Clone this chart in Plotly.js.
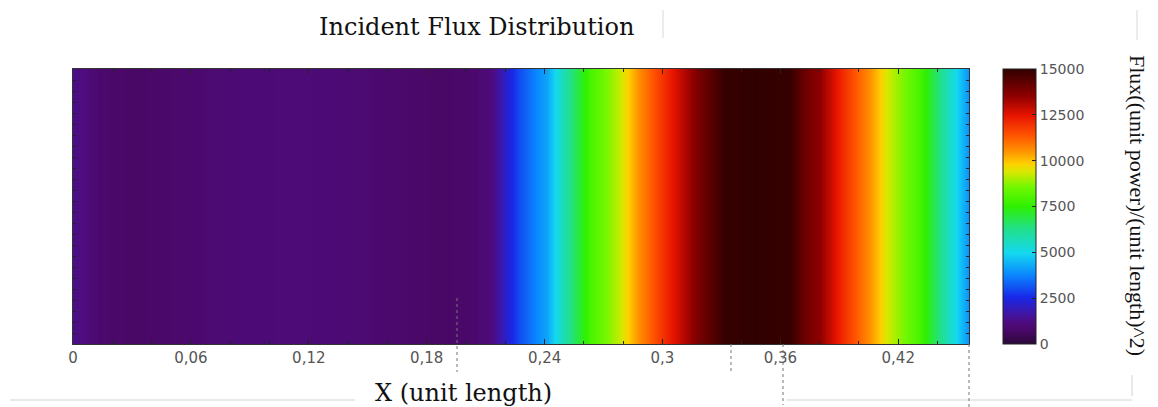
<!DOCTYPE html>
<html>
<head>
<meta charset="utf-8">
<script src="https://cdn.plot.ly/plotly-3.0.1.min.js"></script>
<style>html,body{margin:0;padding:0;background:#fff;}#chart{width:1158px;height:407px;}</style>
</head>
<body>
<div id="chart"></div>
<script>
// Flux profile along X (unit length); field is uniform along the vertical direction
const xPositions = [0.000, 0.006, 0.0137, 0.0305, 0.049, 0.080, 0.115, 0.146, 0.171, 0.188, 0.202, 0.2125, 0.2185, 0.227, 0.236, 0.241, 0.250, 0.263, 0.278, 0.288, 0.301, 0.314, 0.321, 0.3315, 0.347, 0.365, 0.372, 0.380, 0.393, 0.405, 0.415, 0.431, 0.441, 0.456];
const fluxValues = [1300, 1150, 850, 700, 800, 1000, 1050, 950, 800, 700, 800, 1100, 1900, 3000, 3800, 4200, 5800, 7900, 9200, 10600, 12000, 13400, 14100, 14900, 15000, 14900, 14100, 13500, 11900, 10600, 9300, 7900, 6300, 3900];
const yPositions = [0, 0.1];
const xTickLabelStep = 0.06;
const colorbarTicks = [0, 2500, 5000, 7500, 10000, 12500, 15000];

const titleText = "Incident Flux Distribution";
const xTitleText = "X (unit length)";
const cbTitleText = "Flux((unit power)/(unit length)^2)";

const zMatrix = yPositions.map(() => fluxValues.slice());

const colorscale = [
  [0.00, '#2a0838'], [0.05, '#4a0868'], [0.08, '#4e0c80'], [0.12, '#3a18b0'], [0.17, '#1828e8'],
  [0.25, '#0a86ff'], [0.33, '#14d8f0'], [0.42, '#22e088'], [0.50, '#2ef000'],
  [0.57, '#70f800'], [0.625, '#d8e800'], [0.655, '#ffd000'], [0.70, '#ff9400'], [0.76, '#ff5200'],
  [0.83, '#e81400'], [0.90, '#900000'], [1.00, '#300000']
];

const trace = {
  type: 'heatmap',
  x: xPositions,
  y: yPositions,
  z: zMatrix,
  zmin: 0, zmax: 15000,
  zsmooth: 'best',
  colorscale: colorscale,
  hoverinfo: 'x+z',
  colorbar: {
    x: 1.038, xanchor: 'left', xref: 'paper',
    y: 0, yanchor: 'bottom', len: 1, lenmode: 'fraction',
    thickness: 33, outlinewidth: 1, outlinecolor: '#222',
    ticks: 'inside', ticklen: 4, tickcolor: '#222',
    tickvals: colorbarTicks, exponentformat: 'none',
    tickfont: {family: 'DejaVu Sans', size: 14, color: '#555'},
    ypad: 0, xpad: 0
  }
};

const layout = {
  width: 1158, height: 407,
  margin: {l: 73, r: 189, t: 69, b: 63, pad: 0},
  paper_bgcolor: '#fff', plot_bgcolor: '#fff',
  separators: ',',
  showlegend: false,
  xaxis: {
    range: [0, 0.456], tick0: 0, dtick: xTickLabelStep,
    ticks: 'inside', ticklen: 5, tickcolor: '#222',
    minor: {dtick: 0.02, ticks: 'inside', ticklen: 3, tickcolor: '#222'},
    showline: true, linecolor: '#333', linewidth: 1, mirror: 'allticks',
    showgrid: false, zeroline: false,
    tickfont: {family: 'DejaVu Sans', size: 15, color: '#555'},
    automargin: false
  },
  yaxis: {
    range: [0, 0.1], dtick: 0.004,
    ticks: 'inside', ticklen: 3, tickcolor: '#222',
    showticklabels: false,
    showline: true, linecolor: '#333', linewidth: 1, mirror: 'allticks',
    showgrid: false, zeroline: false, automargin: false
  },
  annotations: [
    {text: titleText, xref: 'paper', yref: 'paper', x: (476 - 73) / 896, y: 1 + (69 - 27) / 275,
     xanchor: 'center', yanchor: 'middle', showarrow: false,
     font: {family: 'DejaVu Serif', size: 24, color: '#111'}},
    {text: xTitleText, xref: 'paper', yref: 'paper', x: (463 - 73) / 896, y: -(393 - 344) / 275,
     xanchor: 'center', yanchor: 'middle', showarrow: false,
     font: {family: 'DejaVu Serif', size: 24, color: '#111'}},
    {text: cbTitleText, xref: 'paper', yref: 'paper', x: (1138 - 73) / 896, y: (344 - 205) / 275,
     xanchor: 'center', yanchor: 'middle', showarrow: false, textangle: 90,
     font: {family: 'Liberation Serif', size: 22, color: '#111'}}
  ],
  shapes: [
    // faint screenshot artefacts around the chart
    {type: 'line', xref: 'paper', yref: 'paper', x0: (10-73)/896, x1: (355-73)/896, y0: -(400-344)/275, y1: -(400-344)/275, line: {color: '#e2e2e2', width: 1.5}},
    {type: 'line', xref: 'paper', yref: 'paper', x0: (787-73)/896, x1: (1132-73)/896, y0: -(400-344)/275, y1: -(400-344)/275, line: {color: '#e2e2e2', width: 1.5}},
    {type: 'line', xref: 'paper', yref: 'paper', x0: (1132-73)/896, x1: (1132-73)/896, y0: -(375-344)/275, y1: -(396-344)/275, line: {color: '#e2e2e2', width: 1.5}},
    {type: 'line', xref: 'paper', yref: 'paper', x0: (663-73)/896, x1: (663-73)/896, y0: 1+(69-10)/275, y1: 1+(69-38)/275, line: {color: '#e6e6e6', width: 1.5}},
    {type: 'line', xref: 'paper', yref: 'paper', x0: (1137-73)/896, x1: (1137-73)/896, y0: 1+(69-10)/275, y1: 1+(69-40)/275, line: {color: '#e6e6e6', width: 1.5}},
    {type: 'line', xref: 'paper', yref: 'paper', x0: (457-73)/896, x1: (457-73)/896, y0: (344-298)/275, y1: -(372-344)/275, line: {color: '#777', width: 1, dash: 'dot'}},
    {type: 'line', xref: 'paper', yref: 'paper', x0: (731-73)/896, x1: (731-73)/896, y0: 0, y1: -(372-344)/275, line: {color: '#777', width: 1, dash: 'dot'}},
    {type: 'line', xref: 'paper', yref: 'paper', x0: (783-73)/896, x1: (783-73)/896, y0: 0, y1: -(405-344)/275, line: {color: '#777', width: 1, dash: 'dot'}},
    {type: 'line', xref: 'paper', yref: 'paper', x0: (969-73)/896, x1: (969-73)/896, y0: 0, y1: -(407-344)/275, line: {color: '#777', width: 1, dash: 'dot'}}
  ]
};

Plotly.newPlot('chart', [trace], layout, {displayModeBar: false, staticPlot: true});
</script>
</body>
</html>
